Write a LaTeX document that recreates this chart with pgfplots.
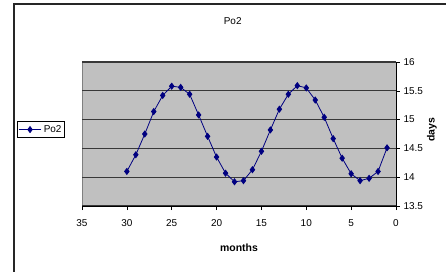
\documentclass[border=0pt]{standalone}
\usepackage{fontspec}
\setmainfont{Liberation Sans}
\usepackage{pgfplots}
\pgfplotsset{compat=1.18}
\definecolor{plotgray}{HTML}{C0C0C0}
\definecolor{navyblue}{HTML}{000080}
\pgfplotstableread{
m v
30 14.10
29 14.39
28 14.75
27 15.14
26 15.42
25 15.58
24 15.56
23 15.44
22 15.08
21 14.71
20 14.35
19 14.07
18 13.92
17 13.94
16 14.13
15 14.45
14 14.82
13 15.18
12 15.44
11 15.59
10 15.55
9 15.34
8 15.04
7 14.67
6 14.33
5 14.06
4 13.94
3 13.98
2 14.10
1 14.51
}\podata
\begin{document}
\begin{tikzpicture}
\begin{axis}[
  scale only axis, width=314bp, height=144bp,
  xmin=0, xmax=35, ymin=13.5, ymax=16,
  x dir=reverse,
  xtick={0,5,...,35}, ytick={13.5,14,...,16},
  axis x line*=bottom, axis y line*=right,
  axis line style={-, black, line width=0.8pt},
  axis background/.style={fill=plotgray, draw=gray, line width=0.8pt},
  ymajorgrids, grid style={draw=black!78, line width=1.4pt},
  tick align=outside, major tick length=4bp,
  tick style={black, line width=0.6pt},
  /pgf/number format/assume math mode=true,
  ticklabel style={font=\fontsize{10}{11}\selectfont},
  xticklabel style={yshift=-6bp},
  yticklabel style={xshift=0bp},
  title=Po2,
  every axis title/.style={at={(axis description cs:0.48,1.285)}, anchor=center, font=\fontsize{10}{11}\selectfont},
  xlabel=months,
  every axis x label/.style={at={(axis description cs:0.5,-0.292)}, anchor=center, font=\bfseries\fontsize{10.5}{12}\selectfont},
  ylabel=days,
  every axis y label/.style={at={(axis description cs:1.1146,0.53)}, anchor=center, rotate=90, font=\bfseries\fontsize{10.5}{12}\selectfont},
  legend style={at={(axis description cs:-0.207,0.59)}, anchor=north west, draw=black, line width=0.6pt, fill=white, font=\fontsize{10}{11}\selectfont, inner xsep=1pt, inner ysep=2pt},
  legend image code/.code={\draw[#1, mark repeat=2, mark phase=2] plot coordinates {(0cm,0cm) (0.4cm,0cm) (0.8cm,0cm)};},
]
\addplot[color=navyblue, line width=0.8pt, mark=diamond*, mark size=3bp, mark options={fill=navyblue, solid}] table[x=m, y=v] {\podata};
\addlegendentry{Po2}
\end{axis}
\draw[line width=1.2pt, black!85] (-68bp,-70bp) -- (-68bp,202bp) -- (370bp,202bp);
\pgfresetboundingbox
\path[use as bounding box] (-82bp,-66bp) rectangle (364bp,206bp);
\end{tikzpicture}
\end{document}
